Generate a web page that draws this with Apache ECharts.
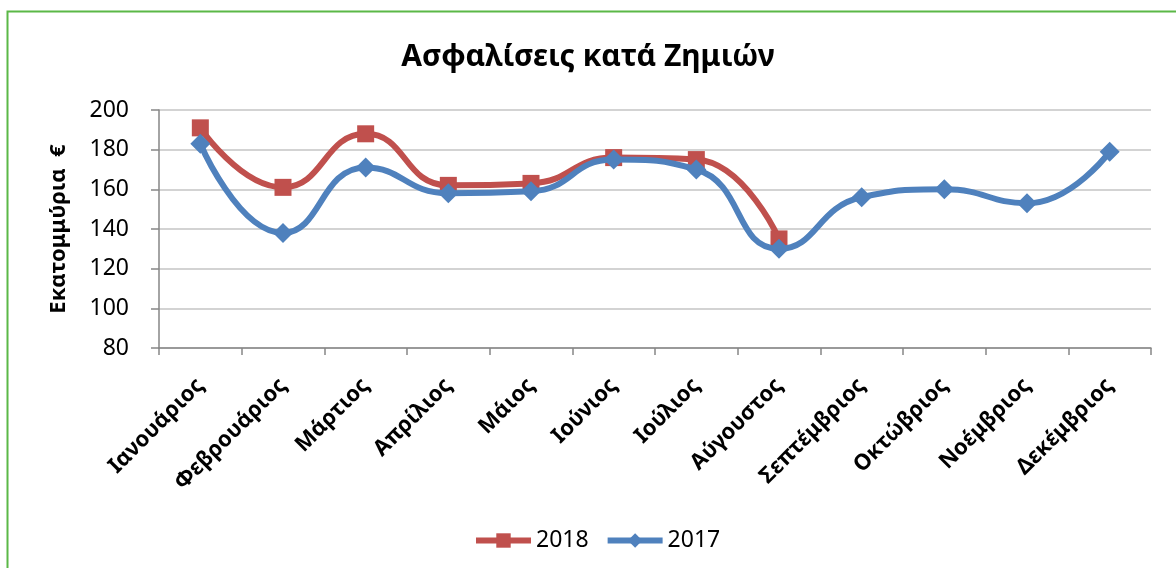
<!doctype html>
<html lang="el">
<head>
  <meta charset="utf-8">
  <title>Ασφαλίσεις κατά Ζημιών</title>
  <script src="https://cdn.jsdelivr.net/npm/echarts@6/dist/echarts.min.js"></script>
  <style>
    html, body { margin: 0; padding: 0; background: #fff; }
    #chart { width: 1176px; height: 568px; }
  </style>
</head>
<body>
  <div id="chart"></div>
  <script>
    // data
    var months = ['Ιανουάριος', 'Φεβρουάριος', 'Μάρτιος', 'Απρίλιος', 'Μάιος', 'Ιούνιος',
      'Ιούλιος', 'Αύγουστος', 'Σεπτέμβριος', 'Οκτώβριος', 'Νοέμβριος', 'Δεκέμβριος'];
    var values2018 = [191, 161, 188, 162, 163, 176, 175, 135, null, null, null, null];
    var values2017 = [183, 138, 171, 158, 159, 175, 170, 130, 156, 160, 153, 179];

    var font = '"Noto Sans", "Open Sans", sans-serif';
    var red = '#c0504d';
    var blue = '#4f81bd';
    var chart = echarts.init(document.getElementById('chart'));

    var option = {
      animation: false,
      textStyle: { fontFamily: font },
      // green frame of the chart box (only top and left edges are visible)
      graphic: [{
        type: 'rect',
        shape: { x: 7.5, y: 11.5, width: 1300, height: 700 },
        style: { fill: 'none', stroke: '#5bb847', lineWidth: 2 }
      }],
      title: {
        text: 'Ασφαλίσεις κατά Ζημιών',
        left: 'center',
        top: 42,
        padding: 0,
        textStyle: { fontFamily: font, fontSize: 30, fontWeight: 'bold', color: '#000' }
      },
      legend: {
        top: 524,
        left: 468,
        itemWidth: 55,
        itemHeight: 18,
        itemGap: 16,
        textStyle: { fontFamily: font, fontSize: 23, color: '#000' },
        data: [
          { name: '2018', lineStyle: { width: 6, color: red } },
          { name: '2017', lineStyle: { width: 6, color: blue } }
        ]
      },
      grid: { left: 159, right: 25, top: 110, bottom: 220 },
      xAxis: {
        type: 'category',
        data: months,
        boundaryGap: true,
        axisLine: { lineStyle: { color: '#868686', width: 1.5 } },
        axisTick: { show: true, length: 7, lineStyle: { color: '#868686', width: 1.5 } },
        axisLabel: {
          rotate: 45,
          interval: 0,
          margin: 34,
          fontFamily: font,
          fontSize: 22,
          fontWeight: 'bold',
          color: '#000'
        }
      },
      yAxis: {
        type: 'value',
        min: 80,
        max: 200,
        interval: 20,
        name: 'Εκατομμύρια  €',
        nameLocation: 'middle',
        nameGap: 89,
        nameTextStyle: { fontFamily: font, fontSize: 22, fontWeight: 'bold', color: '#000' },
        axisLine: { show: true, lineStyle: { color: '#868686', width: 1.5 } },
        axisTick: { show: true, length: 8, lineStyle: { color: '#868686', width: 1.5 } },
        axisLabel: { fontFamily: font, fontSize: 23, color: '#000', margin: 30 },
        splitLine: { lineStyle: { color: '#c4c4c4', width: 1.5 } }
      },
      series: [
        {
          name: '2018',
          type: 'line',
          data: values2018,
          smooth: 0.5,
          symbol: 'rect',
          symbolSize: 17,
          lineStyle: { color: red, width: 6 },
          itemStyle: { color: red },
          z: 2
        },
        {
          name: '2017',
          type: 'line',
          data: values2017,
          smooth: 0.5,
          symbol: 'diamond',
          symbolSize: [20, 20],
          lineStyle: { color: blue, width: 6 },
          itemStyle: { color: blue },
          z: 3
        }
      ]
    };
    chart.setOption(option);
  </script>
</body>
</html>
